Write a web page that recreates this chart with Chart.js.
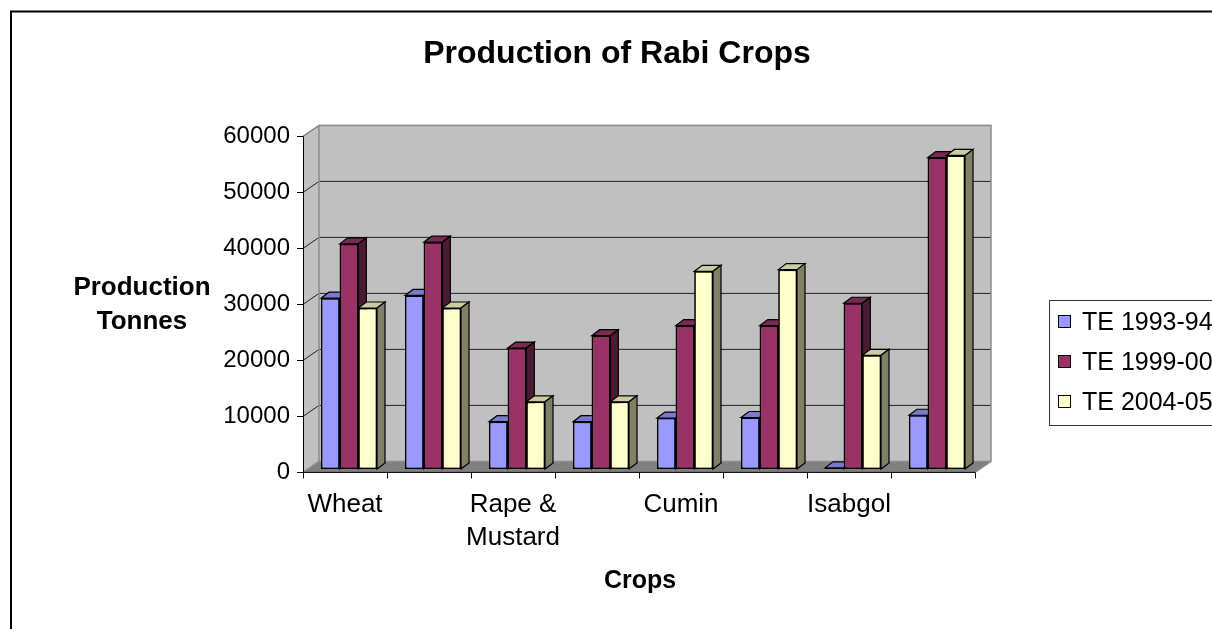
<!DOCTYPE html>
<html>
<head>
<meta charset="utf-8">
<title>Production of Rabi Crops</title>
<script src="https://cdn.jsdelivr.net/npm/chart.js@4.4.0/dist/chart.umd.min.js"></script>
<style>
  html, body { margin: 0; padding: 0; background: #fff; overflow: hidden; }
</style>
</head>
<body>
<canvas id="chart" width="1212" height="629"></canvas>
<script>
// data (only every second crop name is printed on the axis)
const crops = ['Wheat', '', ['Rape &', 'Mustard'], '', 'Cumin', '', 'Isabgol', ''];
const te199394 = [30500, 31000, 8450, 8450, 9100, 9200, 200, 9600];
const te199900 = [40200, 40500, 21600, 23800, 25600, 25600, 29600, 55600];
const te200405 = [28750, 28750, 12000, 12000, 35300, 35600, 20300, 56000];
const seriesNames = ['TE 1993-94', 'TE 1999-00', 'TE 2004-05'];
const yTicks = [0, 10000, 20000, 30000, 40000, 50000, 60000];

// front / top / side colours of each series
const shades = [
  { front: '#9999ff', top: '#7a7acc', side: '#4d4d80' },
  { front: '#993366', top: '#7a2952', side: '#4d1a33' },
  { front: '#ffffcc', top: '#ccccA3', side: '#808066' }
];

const FONT = "'Liberation Sans', Arial, sans-serif";
Chart.defaults.font.family = FONT;
Chart.defaults.color = '#000';

// 3d offsets, relative to the plane the bars stand in
const depth = { dx: 8, dy: -6 };
const frontPlane = { dx: -4, dy: 3.4 };
const backPlane = { dx: 12, dy: -7.6 };

function poly(ctx, pts, fill, stroke, lw) {
  ctx.beginPath();
  ctx.moveTo(pts[0][0], pts[0][1]);
  for (let i = 1; i < pts.length; i++) ctx.lineTo(pts[i][0], pts[i][1]);
  ctx.closePath();
  if (fill) { ctx.fillStyle = fill; ctx.fill(); }
  if (stroke) { ctx.strokeStyle = stroke; ctx.lineWidth = lw || 1; ctx.stroke(); }
}

const box3d = {
  id: 'box3d',
  beforeDatasetsDraw(chart) {
    const { ctx, chartArea: a, scales: { y } } = chart;
    const top = yTicks[yTicks.length - 1];
    const fl = a.left + frontPlane.dx, fr = a.right + frontPlane.dx;
    const bl = a.left + backPlane.dx, br = a.right + backPlane.dx;
    const yf = v => y.getPixelForValue(v) + frontPlane.dy;
    const yb = v => y.getPixelForValue(v) + backPlane.dy;
    ctx.save();
    // walls and floor
    poly(ctx, [[bl, yb(0)], [bl, yb(top)], [br, yb(top)], [br, yb(0)]], '#c0c0c0');
    poly(ctx, [[fl, yf(0)], [fl, yf(top)], [bl, yb(top)], [bl, yb(0)]], '#c0c0c0');
    poly(ctx, [[fl, yf(0)], [fr, yf(0)], [br, yb(0)], [bl, yb(0)]], '#808080');
    // gridlines
    ctx.strokeStyle = '#222';
    ctx.lineWidth = 1;
    yTicks.forEach(v => {
      if (v === 0) return;
      ctx.beginPath();
      ctx.moveTo(fl, yf(v));
      ctx.lineTo(bl, yb(v));
      ctx.lineTo(br, yb(v));
      ctx.stroke();
    });
    // wall edges
    ctx.strokeStyle = '#8c8c8c';
    ctx.lineWidth = 1.5;
    ctx.beginPath();
    ctx.moveTo(fl, yf(top));
    ctx.lineTo(bl, yb(top));
    ctx.lineTo(br, yb(top));
    ctx.lineTo(br, yb(0));
    ctx.lineTo(fr, yf(0));
    ctx.moveTo(bl, yb(top));
    ctx.lineTo(bl, yb(0));
    ctx.lineTo(br, yb(0));
    ctx.moveTo(bl, yb(0));
    ctx.lineTo(fl, yf(0));
    ctx.stroke();
    // axis lines and tick marks
    ctx.strokeStyle = '#000';
    ctx.lineWidth = 1;
    ctx.beginPath();
    ctx.moveTo(fl + 0.5, yf(top));
    ctx.lineTo(fl + 0.5, yf(0));
    ctx.lineTo(fr, yf(0));
    yTicks.forEach(v => {
      ctx.moveTo(fl - 6, Math.round(yf(v)) + 0.5);
      ctx.lineTo(fl, Math.round(yf(v)) + 0.5);
    });
    const n = chart.data.labels.length;
    const step = (a.right - a.left) / n;
    for (let i = 0; i <= n; i++) {
      const px = Math.round(fl + i * step) + 0.5;
      ctx.moveTo(px, yf(0));
      ctx.lineTo(px, yf(0) + 6);
    }
    ctx.stroke();
    ctx.restore();
  },
  afterDatasetsDraw(chart) {
    const { ctx } = chart;
    const n = chart.data.labels.length;
    ctx.save();
    // redraw bar by bar, left to right, so each front hides its neighbour's side
    for (let i = 0; i < n; i++) {
      chart.data.datasets.forEach((ds, d) => {
        const bar = chart.getDatasetMeta(d).data[i];
        bar.draw(ctx, chart.chartArea);
        const { x, y, base, width } = bar.getProps(['x', 'y', 'base', 'width'], true);
        const l = x - width / 2, r = x + width / 2;
        const dx = depth.dx, dy = depth.dy;
        poly(ctx, [[l, y], [l + dx, y + dy], [r + dx, y + dy], [r, y]], shades[d].top, '#000', 1.2);
        poly(ctx, [[r, y], [r + dx, y + dy], [r + dx, base + dy], [r, base]], shades[d].side, '#000', 1.2);
      });
    }
    ctx.restore();
  },
  afterDraw(chart) {
    const { ctx } = chart;
    ctx.save();
    ctx.fillStyle = '#000';
    ctx.textAlign = 'center';
    ctx.textBaseline = 'middle';
    ctx.font = 'bold 32px ' + FONT;
    ctx.fillText('Production of Rabi Crops', 617, 54);
    ctx.font = 'bold 26px ' + FONT;
    ctx.fillText('Production', 142, 288);
    ctx.fillText('Tonnes', 142, 322);
    ctx.font = 'bold 25px ' + FONT;
    ctx.fillText('Crops', 640, 581);
    // legend
    ctx.strokeStyle = '#333';
    ctx.lineWidth = 1;
    ctx.strokeRect(1049.5, 300.5, 200, 125);
    ctx.strokeStyle = '#000';
    ctx.font = '25px ' + FONT;
    ctx.textAlign = 'left';
    chart.data.datasets.forEach((ds, d) => {
      const cy = 322 + d * 40;
      ctx.fillStyle = ds.backgroundColor;
      ctx.fillRect(1058.5, cy - 6.5, 12, 12);
      ctx.strokeRect(1058.5, cy - 6.5, 12, 12);
      ctx.fillStyle = '#000';
      ctx.fillText(ds.label, 1082, cy + 1);
    });
    // outer chart border
    ctx.lineWidth = 2;
    ctx.strokeRect(11, 11.5, 1300, 700);
    ctx.restore();
  }
};

const seriesValues = [te199394, te199900, te200405];

new Chart(document.getElementById('chart'), {
  type: 'bar',
  data: {
    labels: crops,
    datasets: seriesValues.map((vals, d) => ({
      label: seriesNames[d],
      data: vals,
      backgroundColor: shades[d].front,
      borderColor: '#000',
      borderWidth: 1.5,
      borderSkipped: false,
      categoryPercentage: 0.667,
      barPercentage: 1
    }))
  },
  options: {
    responsive: false,
    animation: false,
    events: [],
    devicePixelRatio: 1,
    layout: { padding: { left: 210, right: 233, top: 133, bottom: 60 } },
    plugins: {
      legend: { display: false },
      title: { display: false },
      tooltip: { enabled: false }
    },
    scales: {
      x: {
        grid: { display: false, drawTicks: false },
        border: { display: false },
        ticks: {
          autoSkip: false,
          maxRotation: 0,
          padding: 19,
          labelOffset: -4,
          font: { size: 26, lineHeight: 1.27 }
        },
        afterFit: s => { s.height = 100; }
      },
      y: {
        min: 0,
        max: 60000,
        grid: { display: false, drawTicks: false },
        border: { display: false },
        ticks: {
          padding: 17,
          labelOffset: 3,
          font: { size: 24 },
          callback: v => String(v)
        },
        afterBuildTicks: s => { s.ticks = yTicks.map(v => ({ value: v })); },
        afterFit: s => { s.width = 97; }
      }
    }
  },
  plugins: [box3d]
});
</script>
</body>
</html>
